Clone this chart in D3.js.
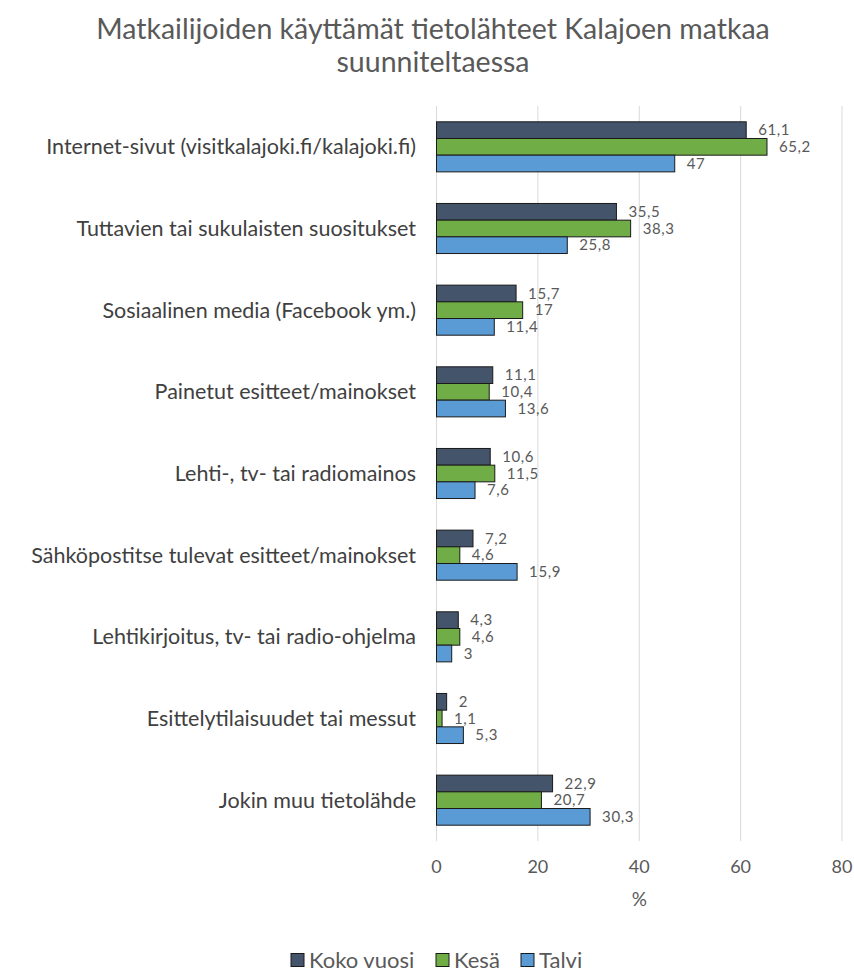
<!DOCTYPE html>
<html>
<head>
<meta charset="utf-8">
<script src="https://cdn.jsdelivr.net/npm/d3@7"></script>
<style>
  body { margin: 0; background: #fff; }
  text { font-family: Lato, "Open Sans", sans-serif; }
</style>
</head>
<body>
<div id="chart"></div>
<script>
// Chart data
const categories = [
  "Internet-sivut (visitkalajoki.fi/kalajoki.fi)",
  "Tuttavien tai sukulaisten suositukset",
  "Sosiaalinen media (Facebook ym.)",
  "Painetut esitteet/mainokset",
  "Lehti-, tv- tai radiomainos",
  "Sähköpostitse tulevat esitteet/mainokset",
  "Lehtikirjoitus, tv- tai radio-ohjelma",
  "Esittelytilaisuudet tai messut",
  "Jokin muu tietolähde"
];
const seriesNames = ["Koko vuosi", "Kesä", "Talvi"];
const kokoVuosi = [61.1, 35.5, 15.7, 11.1, 10.6, 7.2, 4.3, 2, 22.9];
const kesa = [65.2, 38.3, 17, 10.4, 11.5, 4.6, 4.6, 1.1, 20.7];
const talvi = [47, 25.8, 11.4, 13.6, 7.6, 15.9, 3, 5.3, 30.3];
const xTicks = [0, 20, 40, 60, 80];
const colors = ["#44546A", "#70AD47", "#5B9BD5"];

const width = 854, height = 972;
const svg = d3.select("#chart").append("svg")
  .attr("width", width)
  .attr("height", height);

// Title
svg.append("text")
  .attr("x", 433).attr("y", 39)
  .attr("text-anchor", "middle")
  .attr("font-size", 28.5)
  .attr("fill", "#595959")
  .text("Matkailijoiden käyttämät tietolähteet Kalajoen matkaa");
svg.append("text")
  .attr("x", 433).attr("y", 72)
  .attr("text-anchor", "middle")
  .attr("font-size", 28.5)
  .attr("fill", "#595959")
  .text("suunniteltaessa");

// Scales
const x = d3.scaleLinear().domain([0, 80]).range([436.5, 842]);
const y = d3.scaleBand().domain(categories).range([106, 841])
  .paddingInner(0.387).paddingOuter(0.1935);
const ySub = d3.scaleBand().domain(seriesNames).range([0, y.bandwidth()]);

// Gridlines
svg.append("g").selectAll("line")
  .data(xTicks)
  .enter().append("line")
  .attr("x1", d => x(d)).attr("x2", d => x(d))
  .attr("y1", 106).attr("y2", 841)
  .attr("stroke", "#d9d9d9").attr("stroke-width", 1);

// Tick labels
svg.append("g").selectAll("text")
  .data(xTicks)
  .enter().append("text")
  .attr("x", d => x(d)).attr("y", 873)
  .attr("text-anchor", "middle")
  .attr("font-size", 18)
  .attr("fill", "#595959")
  .text(d => d);

svg.append("text")
  .attr("x", x(40)).attr("y", 906)
  .attr("text-anchor", "middle")
  .attr("font-size", 19)
  .attr("fill", "#595959")
  .text("%");

// Category labels
svg.append("g").selectAll("text")
  .data(categories)
  .enter().append("text")
  .attr("x", 416)
  .attr("y", d => y(d) + y.bandwidth() / 2)
  .attr("dy", "0.35em")
  .attr("text-anchor", "end")
  .attr("font-size", 21.5)
  .attr("fill", "#404040")
  .text(d => d);

// Bars
const series = [kokoVuosi, kesa, talvi];
const fmt = v => String(v).replace(".", ",");
series.forEach((vals, si) => {
  const g = svg.append("g");
  const rows = categories.map((c, i) => ({ c, v: vals[i] }));
  g.selectAll("rect")
    .data(rows)
    .enter().append("rect")
    .attr("x", x(0))
    .attr("y", d => y(d.c) + ySub(seriesNames[si]))
    .attr("width", d => x(d.v) - x(0))
    .attr("height", ySub.bandwidth())
    .attr("fill", colors[si])
    .attr("stroke", "#1a1a1a")
    .attr("stroke-width", 1);
  g.selectAll("text")
    .data(rows)
    .enter().append("text")
    .attr("x", d => x(d.v) + 12)
    .attr("y", d => y(d.c) + ySub(seriesNames[si]) + ySub.bandwidth() / 2)
    .attr("dy", "0.35em")
    .attr("font-size", 15)
    .attr("letter-spacing", 0.6)
    .attr("fill", "#595959")
    .text(d => fmt(d.v));
});

// Legend
const legendX = [291, 436, 521];
const legend = svg.append("g").selectAll("g")
  .data(seriesNames)
  .enter().append("g")
  .attr("transform", (d, i) => `translate(${legendX[i]},960)`);
legend.append("rect")
  .attr("x", 0).attr("y", -6.5)
  .attr("width", 13).attr("height", 13)
  .attr("fill", (d, i) => colors[i])
  .attr("stroke", "#1a1a1a");
legend.append("text")
  .attr("x", 18).attr("y", 0)
  .attr("dy", "0.35em")
  .attr("font-size", 22)
  .attr("fill", "#595959")
  .text(d => d);
</script>
</body>
</html>
